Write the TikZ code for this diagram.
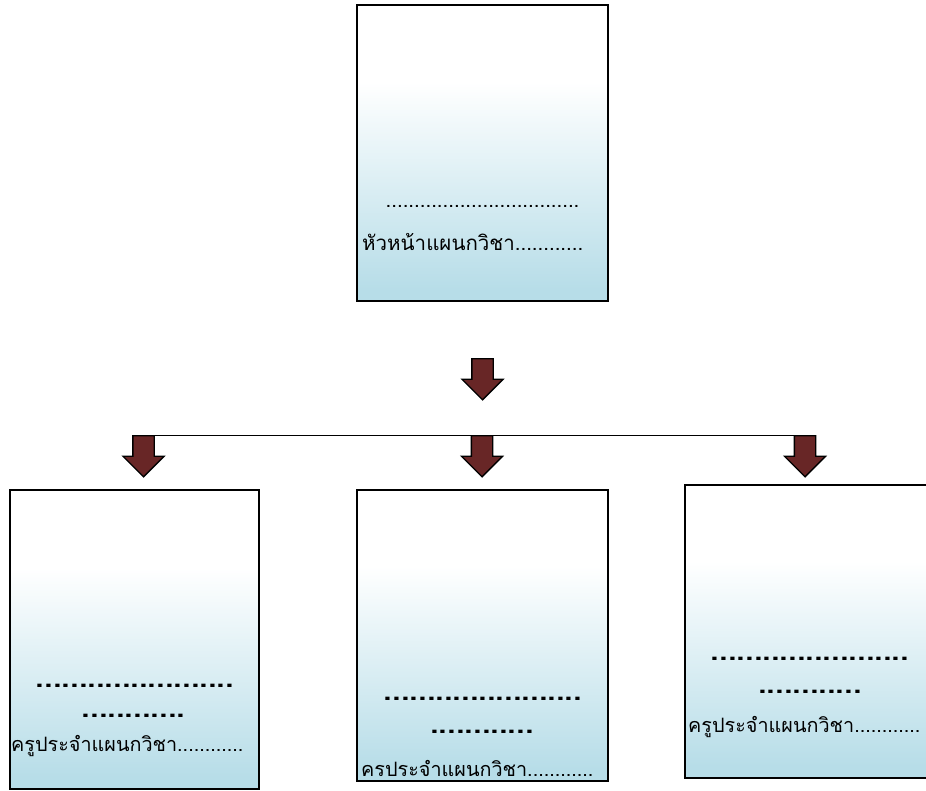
\documentclass[tikz,border=0pt]{standalone}
\usepackage{fontspec}
\newfontfamily\thaifont[Script=Thai]{Loma}
\usetikzlibrary{shapes.arrows}
\definecolor{mblue}{RGB}{183, 221, 232}
\definecolor{mbrown}{RGB}{104, 38, 38}
\pgfdeclareverticalshading{boxfade}{100bp}{color(0bp)=(mblue); color(27bp)=(mblue); color(62bp)=(white); color(100bp)=(white)}
\tikzset{box/.style = {draw, line width = 1.6pt, shade, shading = boxfade, inner sep = 0},
         blockarr/.style = {single arrow, shape border rotate = 270, draw, line width = 1.3pt, fill = mbrown,
                            inner sep = 10pt, single arrow head extend = 10pt, minimum height = 41pt},
         thin dots/.style = {font = \thaifont\fontsize{20.5}{24}\selectfont},
         bold dots/.style = {font = \thaifont\bfseries\fontsize{31}{36}\selectfont},
         thai/.style = {font = \thaifont\fontsize{20.5}{24}\selectfont, anchor = west, inner sep = 0},
         thai small/.style = {thai, font = \thaifont\fontsize{19.8}{24}\selectfont}}

\begin{document}
\begin{tikzpicture}[x = 1pt, y = -1pt]
      \useasboundingbox (0, 0) rectangle (926, 790);

      % boxes
      \node [box, minimum width = 251pt, minimum height = 296pt] (head) at (482.5, 153) {};
      \node [box, minimum width = 249pt, minimum height = 299pt] (left) at (134.5, 639.5) {};
      \node [box, minimum width = 251pt, minimum height = 291pt] (mid) at (482.5, 635.5) {};
      \node [box, minimum width = 255pt, minimum height = 293pt] (right) at (812.5, 631.5) {};

      % arrows
      \node [blockarr] (arrtop) at (482.5, 374) {};
      \node [blockarr] (arrl) at (143.5, 451) {};
      \node [blockarr] (arrm) at (482, 451) {};
      \node [blockarr] (arrr) at (805, 451) {};
      \draw (arrl.tail) -- (arrr.tail);

      % texts
      \node [thin dots] (hdots) at (482.5, 206) {..................................};
      \node [thai] (hname) at (362, 242) {หัวหน้าแผนกวิชา............};

      \node [bold dots] (ldots) at (135, 686) {.......................};
      \node [bold dots] (ldotsb) at (133.5, 716) {............};
      \node [thai small] (lname) at (11, 746) {ครูประจำแผนกวิชา............};

      \node [bold dots] (mdots) at (483, 699) {.......................};
      \node [bold dots] (mdotsb) at (482, 732) {............};
      \node [thai small] (mname) at (361, 768) {ครประจำแผนกวิชา............};

      \node [bold dots] (rdots) at (810, 659) {.......................};
      \node [bold dots] (rdotsb) at (810, 692) {............};
      \node [thai small] (rname) at (688, 727) {ครูประจำแผนกวิชา............};
    \end{tikzpicture}
\end{document}
